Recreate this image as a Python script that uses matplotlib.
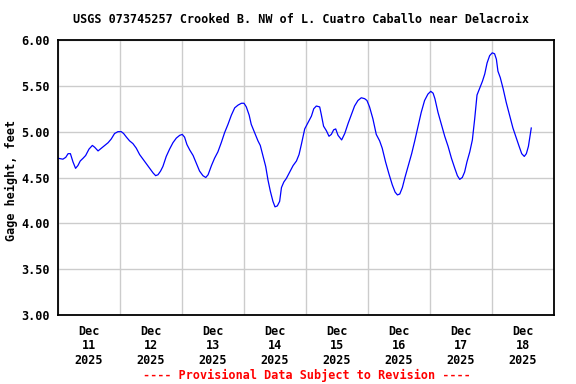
import matplotlib
matplotlib.use('Agg')
import matplotlib.pyplot as plt
import matplotlib.dates as mdates
import pandas as pd

# Gage height readings: hours since Dec 11 2025 00:00, feet
horas = [0.0, 1.9, 3.0, 3.9, 4.8, 5.8, 6.8, 7.7, 8.6, 9.7, 10.7, 12.0, 13.3, 14.2,
         15.5, 16.8, 18.1, 19.4, 20.6, 21.9, 23.2, 24.5, 25.4, 26.5, 27.7, 29.0,
         30.3, 31.6, 32.9, 34.2, 35.5, 36.8, 37.8, 38.7, 39.7, 40.6, 41.9, 43.2,
         44.5, 45.8, 47.1, 48.1, 49.0, 49.9, 51.0, 52.3, 53.6, 54.8, 56.1, 57.2,
         58.1, 59.4, 60.6, 61.9, 63.2, 64.5, 65.8, 67.1, 68.4, 69.7, 71.0, 72.0,
         72.9, 74.0, 74.8, 76.1, 77.4, 78.3, 79.4, 80.4, 81.3, 82.2, 83.2, 84.0,
         84.9, 85.8, 86.5, 87.4, 88.4, 89.7, 91.0, 92.3, 93.3, 94.2, 95.5, 96.8,
         98.1, 99.0, 100.0, 101.3, 101.9, 102.8, 103.9, 104.9, 105.8, 106.7, 107.5,
         108.4, 109.8, 111.0, 112.3, 113.5, 114.8, 116.1, 117.4, 118.7, 119.6,
         120.6, 121.9, 123.2, 124.5, 125.5, 126.8, 128.1, 129.4, 130.5, 131.4,
         132.3, 133.3, 134.3, 135.6, 136.9, 138.1, 139.4, 140.6, 141.9, 143.2,
         144.3, 145.2, 145.9, 147.1, 148.4, 149.7, 151.0, 152.3, 153.6, 154.6,
         155.5, 156.5, 157.4, 158.3, 159.4, 160.4, 161.3, 162.2, 163.2, 164.3,
         165.2, 166.1, 167.1, 168.1, 169.0, 169.7, 170.3, 171.2, 172.3, 173.5,
         174.8, 176.1, 177.4, 178.5, 179.5, 180.5, 181.3, 182.1, 182.8, 183.2]
nivel = [4.71, 4.70, 4.72, 4.76, 4.76, 4.67, 4.60, 4.63, 4.68, 4.71, 4.74, 4.81,
         4.85, 4.83, 4.79, 4.82, 4.85, 4.88, 4.92, 4.98, 5.00, 5.00, 4.98, 4.94,
         4.90, 4.87, 4.82, 4.75, 4.70, 4.65, 4.60, 4.55, 4.52, 4.53, 4.57, 4.62,
         4.73, 4.81, 4.88, 4.93, 4.96, 4.97, 4.94, 4.86, 4.80, 4.74, 4.65, 4.57,
         4.52, 4.50, 4.53, 4.63, 4.71, 4.78, 4.88, 4.99, 5.08, 5.18, 5.26, 5.29,
         5.31, 5.31, 5.27, 5.18, 5.08, 4.99, 4.90, 4.85, 4.73, 4.62, 4.47, 4.35,
         4.24, 4.18, 4.19, 4.24, 4.39, 4.45, 4.49, 4.56, 4.63, 4.68, 4.75, 4.86,
         5.03, 5.10, 5.17, 5.25, 5.28, 5.27, 5.19, 5.06, 5.01, 4.95, 4.97, 5.02,
         5.03, 4.96, 4.91, 4.98, 5.09, 5.18, 5.28, 5.34, 5.37, 5.36, 5.34, 5.27,
         5.14, 4.97, 4.90, 4.82, 4.67, 4.54, 4.42, 4.34, 4.31, 4.32, 4.39, 4.50,
         4.63, 4.76, 4.90, 5.06, 5.21, 5.34, 5.41, 5.44, 5.42, 5.36, 5.21, 5.08,
         4.95, 4.84, 4.71, 4.60, 4.52, 4.48, 4.50, 4.56, 4.67, 4.78, 4.91, 5.14,
         5.40, 5.47, 5.55, 5.63, 5.75, 5.83, 5.86, 5.85, 5.79, 5.66, 5.59, 5.47,
         5.32, 5.18, 5.04, 4.93, 4.84, 4.76, 4.73, 4.76, 4.84, 4.97, 5.04]

inicio = pd.Timestamp('2025-12-11 00:00')
datas = [inicio + pd.Timedelta(hours=h) for h in horas]

dias = pd.date_range('2025-12-11', '2025-12-19', freq='D')
meio_dia = dias[:-1] + pd.Timedelta(hours=12)
rotulos_x = [d.strftime('Dec\n%d\n%Y') for d in meio_dia]
y_ticks = [3.0, 3.5, 4.0, 4.5, 5.0, 5.5, 6.0]

fonte = {'family': 'DejaVu Sans Mono', 'weight': 'bold', 'size': 8.5}

fig = plt.figure(figsize=(5.76, 3.84), dpi=100)
ax = fig.add_axes([0.1007, 0.1797, 0.8611, 0.7161])

ax.plot(datas, nivel, color='#0000ff', linewidth=0.9)

ax.set_xlim(dias[0], dias[-1])
ax.set_ylim(3.0, 6.0)

ax.set_xticks(dias)
ax.set_xticklabels([])
ax.set_xticks(meio_dia, minor=True)
ax.set_xticklabels(rotulos_x, minor=True, fontdict=fonte, linespacing=1.15)
ax.tick_params(axis='x', which='both', length=0, pad=7)

ax.set_yticks(y_ticks)
ax.set_yticklabels(['%.2f' % v for v in y_ticks], fontdict=fonte)
ax.tick_params(axis='y', length=0, pad=6)

ax.grid(True, which='major', color='#cccccc', linewidth=1)
for s in ax.spines.values():
    s.set_linewidth(1.3)

ax.set_ylabel('Gage height, feet', fontdict=fonte)
ax.yaxis.set_label_coords(-0.080, 0.49)

fig.text(0.523, 0.95, 'USGS 073745257 Crooked B. NW of L. Cuatro Caballo near Delacroix',
         ha='center', va='center', **fonte)
fig.text(0.533, 0.023, '---- Provisional Data Subject to Revision ----',
         ha='center', va='center', color='red', **fonte)

plt.savefig('out.png', dpi=100)
